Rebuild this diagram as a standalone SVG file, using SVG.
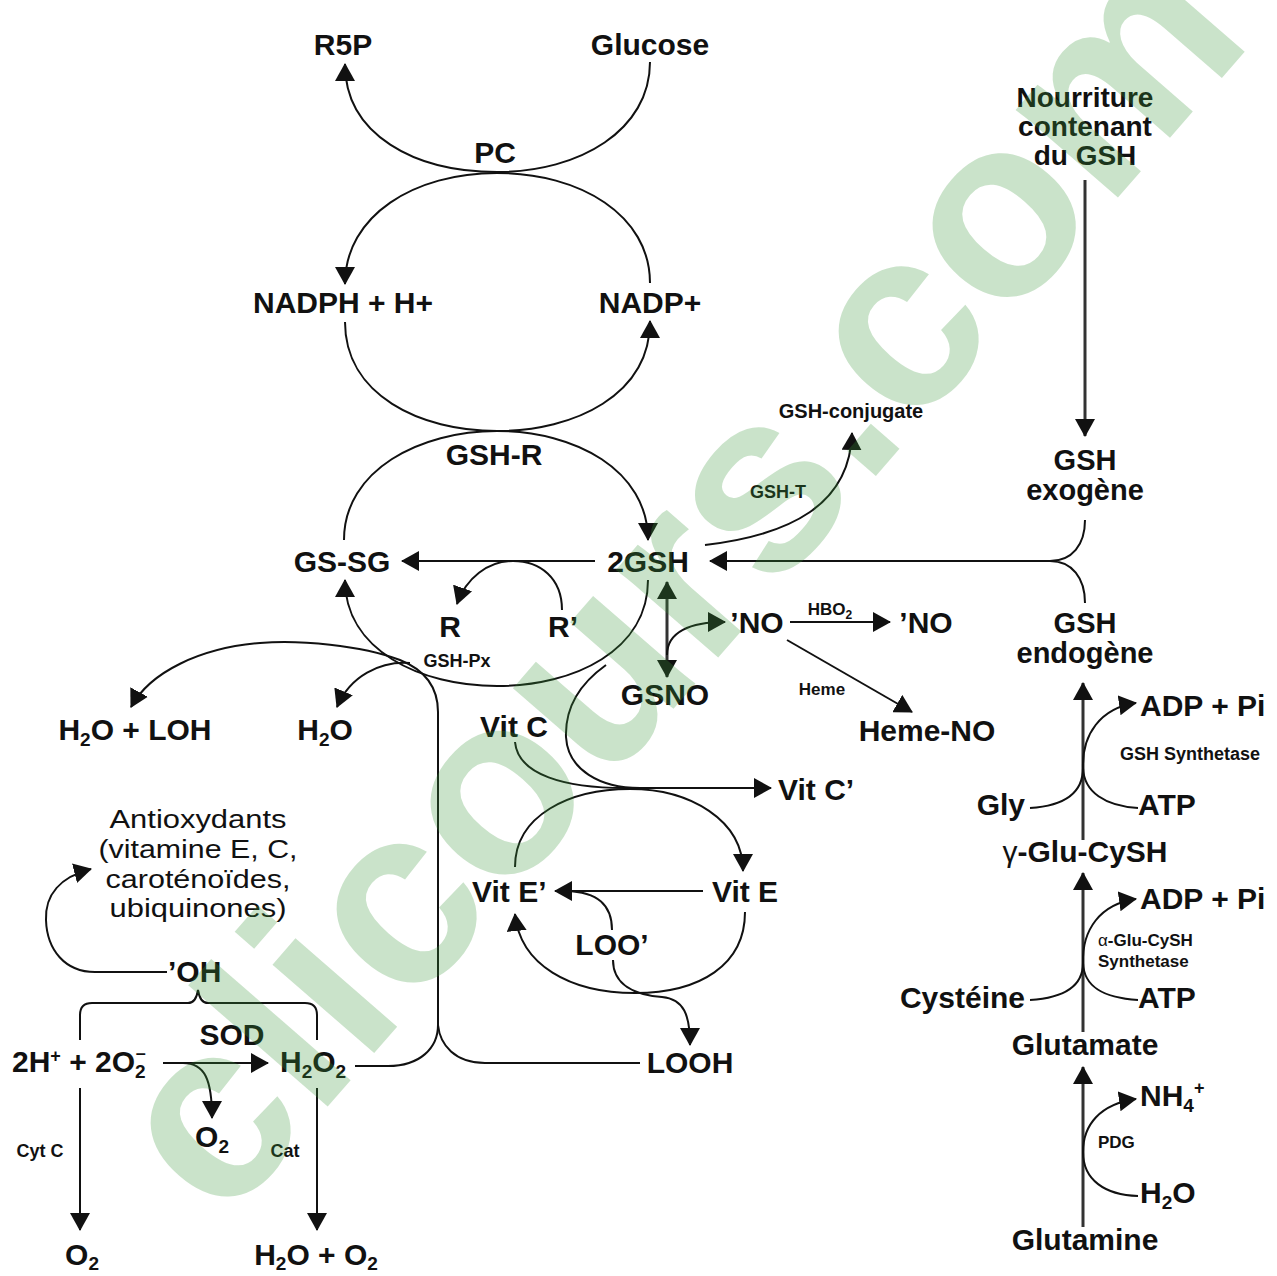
<svg xmlns="http://www.w3.org/2000/svg" width="1277" height="1276" viewBox="0 0 1277 1276">
<style>
text{font-family:"Liberation Sans",Arial,Helvetica,sans-serif;fill:#111}
.t{font-weight:bold;font-size:30px;text-anchor:middle}
.st{text-anchor:start}
.en{text-anchor:end}
.s{font-size:18px}
.sb{font-size:19px}
.r{font-weight:normal;font-size:26px;text-anchor:middle}
.gk{font-weight:normal}
.c{fill:none;stroke:#111;stroke-width:2}
.g{fill:none;stroke:#333;stroke-width:3}
.a{marker-end:url(#ah)}
.wm{font-weight:bold;font-size:255px;fill:#3c963c;fill-opacity:0.27}
</style>
<defs>
<marker id="ah" viewBox="0 0 18 20" refX="17" refY="10" markerWidth="18" markerHeight="20" markerUnits="userSpaceOnUse" orient="auto"><path d="M0,0L18,10L0,20z" fill="#111"/></marker>
<marker id="ah2" viewBox="0 0 18 20" refX="17" refY="10" markerWidth="18" markerHeight="20" markerUnits="userSpaceOnUse" orient="auto-start-reverse"><path d="M0,0L18,10L0,20z" fill="#111"/></marker>
</defs>
<rect width="1277" height="1276" fill="#fff"/>
<g id="connectors">
<path class="c a" d="M650,62 C650,130 580,172 497,172 C415,172 345,135 345,64"/>
<path class="c a" d="M650,283 C650,215 580,173 497,173 C415,173 345,215 345,284"/>
<path class="c a" d="M345,322 C345,395 420,431 497,431 C575,431 650,395 650,321"/>
<path class="c a" d="M344,540 C344,470 420,431 497,431 C575,431 648,470 648,540"/>
<path class="c a" d="M595,561 L402,561"/>
<path class="c a" d="M562,610 C562,578 540,561 513,561 C488,561 466,578 457,604"/>
<path class="c a" d="M648,580 C648,650 575,686 497,686 C420,686 345,650 345,580"/>
<path class="c" d="M606,665 C578,685 565,708 566,737 C568,770 600,788 640,788"/>
<path class="c a" d="M515,742 C518,775 565,788 625,788 L771,788"/>
<path class="c a" d="M515,867 C515,815 570,789 630,789 C690,789 743,820 743,871"/>
<path class="c a" d="M703,891 L555,891"/>
<path class="c a" d="M745,912 C745,965 700,993 635,993 C570,993 520,965 515,914"/>
<path class="c" d="M612,930 C612,905 598,892 566,891"/>
<path class="c a" d="M613,960 C613,985 635,995 662,997 C684,999 690,1015 690,1045"/>
<path class="c a" d="M355,1066 L388,1066 C420,1066 438,1048 438,1025 L438,712 C438,688 425,670 400,660 C360,645 300,640 260,643 C200,648 150,672 131,707"/>
<path class="c" d="M640,1063 L485,1063 C455,1063 440,1045 438,1025"/>
<path class="c a" d="M410,663 C380,661 350,676 337,707"/>
<path class="c a" d="M705,545 C790,535 850,505 852,433"/>
<path class="c" d="M1085,520 C1085,545 1072,561 1050,561 M1085,603 C1085,578 1072,561 1050,561"/>
<path class="c a" d="M1050,561 L710,561"/>
<path class="g a" d="M1085,180 L1085,436"/>
<path class="g" d="M667,582 L667,677" marker-start="url(#ah2)" marker-end="url(#ah2)"/>
<path class="c a" d="M667,655 C667,632 690,622 725,622"/>
<path class="c a" d="M790,622 L890,622"/>
<path class="c a" d="M787,640 L912,712"/>
<path class="c a" d="M167,972 L95,972 C65,972 47,950 46,920 C45,895 60,877 91,869"/>
<path class="c" d="M80,1040 L80,1015 Q80,1003 92,1003 L188,1003 Q196,1003 198,990 Q200,1003 208,1003 L305,1003 Q317,1003 317,1015 L317,1040"/>
<path class="c a" d="M163,1063 L268,1063"/>
<path class="c a" d="M183,1063 C205,1063 212,1080 212,1118"/>
<path class="c a" d="M80,1088 L80,1230"/>
<path class="c a" d="M317,1088 L317,1230"/>
<path class="g a" d="M1083,1227 L1083,1067"/>
<path class="c a" d="M1138,1196 C1105,1195 1083,1180 1083,1152 C1083,1125 1100,1104 1136,1099"/>
<path class="g a" d="M1083,1032 L1083,873"/>
<path class="c" d="M1030,1000 C1062,998 1083,988 1083,963"/>
<path class="c a" d="M1138,1000 C1105,998 1084,988 1083,963 C1082,930 1100,904 1136,899"/>
<path class="g a" d="M1083,840 L1083,683"/>
<path class="c" d="M1030,808 C1062,806 1083,795 1083,768"/>
<path class="c a" d="M1138,808 C1105,806 1084,792 1083,768 C1082,735 1100,708 1136,703"/>
</g>
<g id="n-r5p"><text class="t" x="343" y="55">R5P</text></g>
<g id="n-glucose"><text class="t" x="650" y="55">Glucose</text></g>
<g id="n-pc"><text class="t" x="495" y="163">PC</text></g>
<g id="n-nadph"><text class="t" x="343" y="313">NADPH + H+</text></g>
<g id="n-nadp"><text class="t" x="650" y="313">NADP+</text></g>
<g id="n-gshconj"><text class="t" style="font-size:20px" x="851" y="418">GSH-conjugate</text></g>
<g id="n-gshr"><text class="t" x="494" y="465">GSH-R</text></g>
<g id="n-gsht"><text class="t s" x="778" y="498">GSH-T</text></g>
<g id="n-gssg"><text class="t" x="342" y="572">GS-SG</text></g>
<g id="n-2gsh"><text class="t" x="648" y="572">2GSH</text></g>
<g id="n-r"><text class="t" x="450" y="637">R</text></g>
<g id="n-rp"><text class="t" x="563" y="637">R’</text></g>
<g id="n-gshpx"><text class="t s" x="457" y="667">GSH-Px</text></g>
<g id="n-gsno"><text class="t" x="665" y="705">GSNO</text></g>
<g id="n-no1"><text class="t" x="757" y="633">’NO</text></g>
<g id="n-hbo2"><text class="t" style="font-size:17px" x="830" y="615">HBO<tspan dy="4" style="font-size:12px">2</tspan></text></g>
<g id="n-no2"><text class="t" x="926" y="633">’NO</text></g>
<g id="n-heme"><text class="t" style="font-size:17px" x="822" y="695">Heme</text></g>
<g id="n-hemeno"><text class="t" x="927" y="741">Heme-NO</text></g>
<g id="n-nourriture"><text class="t" style="font-size:28px" x="1085" y="107">Nourriture</text><text class="t" style="font-size:28px" x="1085" y="136">contenant</text><text class="t" style="font-size:28px" x="1085" y="165">du GSH</text></g>
<g id="n-exo"><text class="t" style="font-size:29px" x="1085" y="470">GSH</text><text class="t" style="font-size:29px" x="1085" y="500">exogène</text></g>
<g id="n-endo"><text class="t" style="font-size:29px" x="1085" y="633">GSH</text><text class="t" style="font-size:29px" x="1085" y="663">endogène</text></g>
<g id="n-h2oloh"><text class="t" x="135" y="740">H<tspan class="sb" dy="6">2</tspan><tspan dy="-6">O + LOH</tspan></text></g>
<g id="n-h2o"><text class="t" x="325" y="740">H<tspan class="sb" dy="6">2</tspan><tspan dy="-6">O</tspan></text></g>
<g id="n-vitc"><text class="t" x="514" y="737">Vit C</text></g>
<g id="n-vitcp"><text class="t st" x="778" y="800">Vit C’</text></g>
<g id="n-antiox">
<text class="r" x="198" y="828" textLength="177" lengthAdjust="spacingAndGlyphs">Antioxydants</text>
<text class="r" x="198" y="858" textLength="199" lengthAdjust="spacingAndGlyphs">(vitamine E, C,</text>
<text class="r" x="198" y="888" textLength="185" lengthAdjust="spacingAndGlyphs">caroténoïdes,</text>
<text class="r" x="198" y="917" textLength="177" lengthAdjust="spacingAndGlyphs">ubiquinones)</text>
</g>
<g id="n-vitep"><text class="t st" x="472" y="902">Vit E’</text></g>
<g id="n-vite"><text class="t" x="745" y="902">Vit E</text></g>
<g id="n-loo"><text class="t" x="612" y="955">LOO’</text></g>
<g id="n-looh"><text class="t" x="690" y="1073">LOOH</text></g>
<g id="n-oh"><text class="t st" x="168" y="982">’OH</text></g>
<g id="n-sod"><text class="t" x="232" y="1045">SOD</text></g>
<g id="n-o2minus"><text class="t st" x="12" y="1072">2H<tspan class="s" dy="-10">+</tspan><tspan dy="10"> + 2O</tspan><tspan class="sb" dy="6">2</tspan><tspan class="s" dx="-10" dy="-19">–</tspan></text></g>
<g id="n-h2o2"><text class="t st" x="280" y="1072">H<tspan class="sb" dy="6">2</tspan><tspan dy="-6">O</tspan><tspan class="sb" dy="6">2</tspan></text></g>
<g id="n-o2a"><text class="t" x="212" y="1147">O<tspan class="sb" dy="6">2</tspan></text></g>
<g id="n-cytc"><text class="t s" x="40" y="1157">Cyt C</text></g>
<g id="n-cat"><text class="t s" x="285" y="1157">Cat</text></g>
<g id="n-o2b"><text class="t" x="82" y="1265">O<tspan class="sb" dy="5">2</tspan></text></g>
<g id="n-h2oo2"><text class="t" x="316" y="1265">H<tspan class="sb" dy="5">2</tspan><tspan dy="-5">O + O</tspan><tspan class="sb" dy="5">2</tspan></text></g>
<g id="n-adp1"><text class="t st" x="1140" y="716">ADP + Pi</text></g>
<g id="n-gshsyn"><text class="t s" x="1190" y="760">GSH Synthetase</text></g>
<g id="n-gly"><text class="t en" x="1025" y="815">Gly</text></g>
<g id="n-atp1"><text class="t st" x="1138" y="815">ATP</text></g>
<g id="n-gglu"><text class="t" x="1085" y="862"><tspan class="gk">γ</tspan>-Glu-CySH</text></g>
<g id="n-adp2"><text class="t st" x="1140" y="909">ADP + Pi</text></g>
<g id="n-agsyn"><text class="t st" style="font-size:17px" x="1098" y="946"><tspan class="gk">α</tspan>-Glu-CySH</text><text class="t st" style="font-size:17px" x="1098" y="967">Synthetase</text></g>
<g id="n-cys"><text class="t en" x="1025" y="1008">Cystéine</text></g>
<g id="n-atp2"><text class="t st" x="1138" y="1008">ATP</text></g>
<g id="n-glutamate"><text class="t" x="1085" y="1055">Glutamate</text></g>
<g id="n-nh4"><text class="t st" x="1140" y="1106">NH<tspan class="sb" dy="6">4</tspan><tspan class="s" dy="-18">+</tspan></text></g>
<g id="n-pdg"><text class="t st" style="font-size:17px" x="1098" y="1148">PDG</text></g>
<g id="n-h2o3"><text class="t st" x="1140" y="1203">H<tspan class="sb" dy="6">2</tspan><tspan dy="-6">O</tspan></text></g>
<g id="n-glutamine"><text class="t" x="1085" y="1250">Glutamine</text></g>
<g id="watermark"><text class="wm" transform="translate(223,1227) rotate(-49)">clicours.com</text></g>
</svg>
